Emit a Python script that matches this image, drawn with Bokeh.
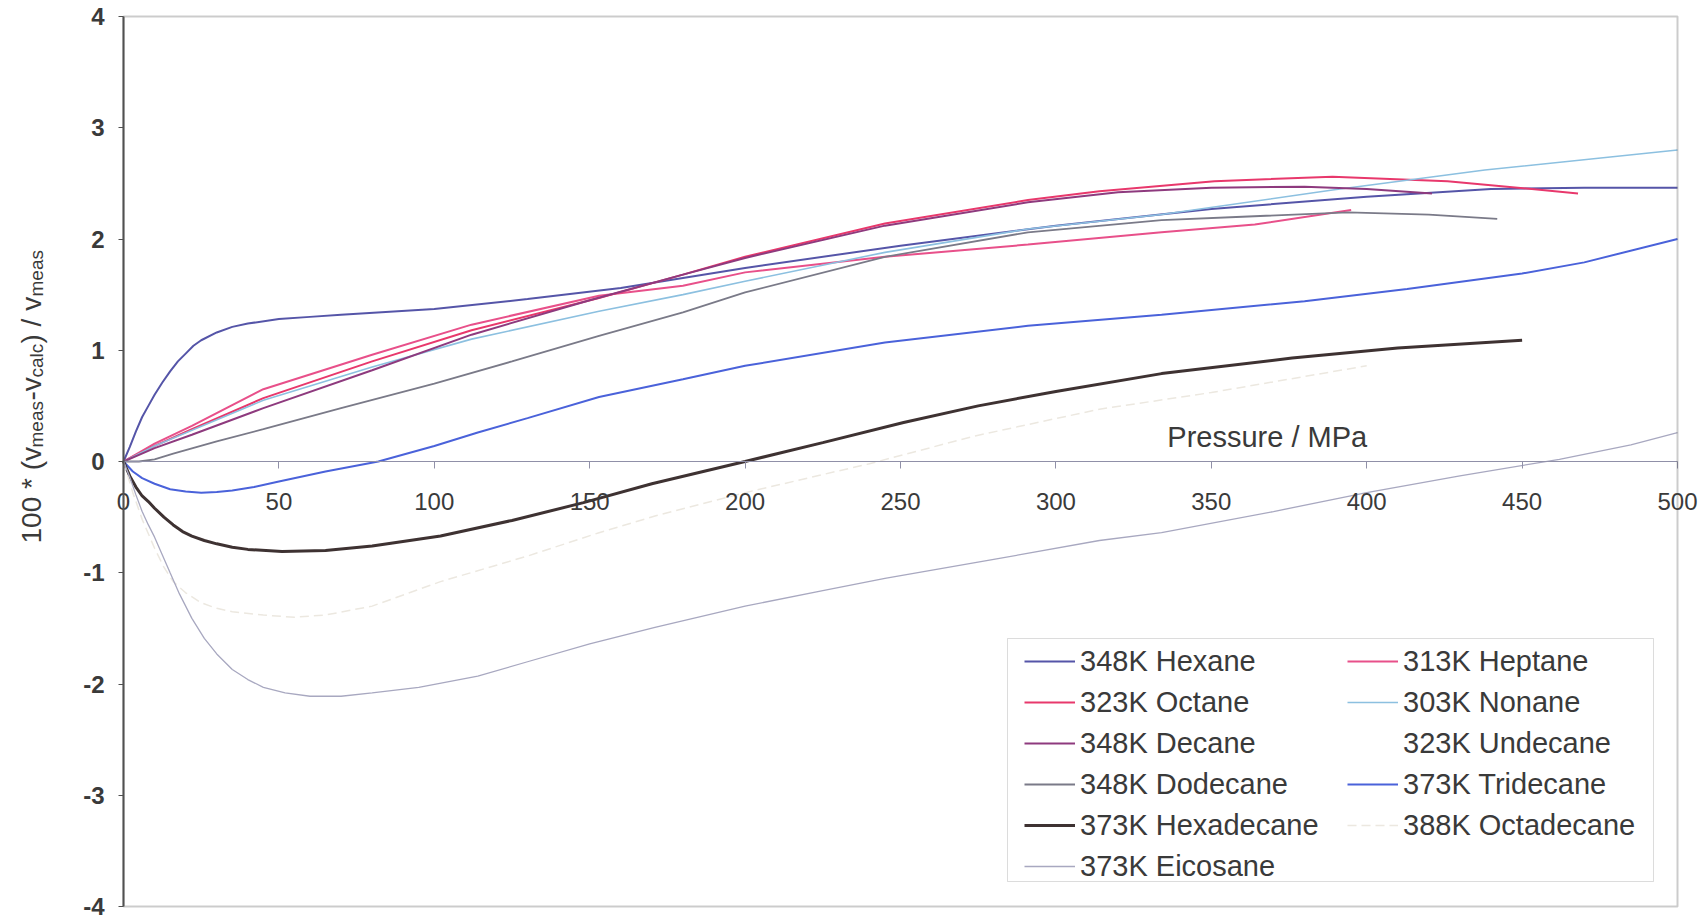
from math import pi
from bokeh.plotting import figure
from bokeh.models import (Range1d, FixedTicker, Label, Legend, LegendItem,
                          ColumnDataSource, BoxAnnotation)
from bokeh.embed import file_html
from bokeh.resources import INLINE

# ---------------- data ----------------
x_ticks = [0, 50, 100, 150, 200, 250, 300, 350, 400, 450, 500]
y_ticks = [-4, -3, -2, -1, 0, 1, 2, 3, 4]
y_tick_labels = ["-4", "-3", "-2", "-1", "0", "1", "2", "3", "4"]

series_names = ["348K Hexane", "313K Heptane", "323K Octane", "303K Nonane",
                "348K Decane", "323K Undecane", "348K Dodecane", "373K Tridecane",
                "373K Hexadecane", "388K Octadecane", "373K Eicosane"]

hexane_p = [0, 2, 4, 6, 8, 10, 12.5, 15, 17.5, 20, 22.5, 25, 30, 35, 40, 50, 60, 70, 100, 130, 160, 200, 250, 300, 350, 400, 440, 470, 500]
hexane_v = [0, 0.13, 0.27, 0.4, 0.5, 0.6, 0.71, 0.81, 0.9, 0.97, 1.04, 1.09, 1.16, 1.21, 1.24, 1.28, 1.3, 1.32, 1.37, 1.46, 1.56, 1.74, 1.94, 2.12, 2.27, 2.38, 2.45, 2.46, 2.46]

heptane_p = [0, 5, 10, 22, 45, 80, 112, 153, 180, 200, 245, 291, 334, 364, 395]
heptane_v = [0, 0.08, 0.16, 0.32, 0.65, 0.96, 1.23, 1.49, 1.58, 1.70, 1.84, 1.95, 2.06, 2.13, 2.26]

octane_p = [0, 5, 10, 22, 45, 80, 112, 153, 180, 200, 245, 291, 314, 351, 389, 426, 468]
octane_v = [0, 0.07, 0.14, 0.29, 0.57, 0.9, 1.18, 1.47, 1.68, 1.84, 2.14, 2.35, 2.43, 2.52, 2.56, 2.52, 2.41]

nonane_p = [0, 5, 10, 22, 45, 80, 112, 153, 180, 200, 245, 291, 334, 389, 438, 500]
nonane_v = [0, 0.07, 0.14, 0.28, 0.55, 0.85, 1.1, 1.35, 1.5, 1.62, 1.88, 2.09, 2.22, 2.44, 2.62, 2.8]

decane_p = [0, 5, 10, 22, 45, 80, 112, 150, 180, 200, 245, 291, 320, 350, 380, 400, 421]
decane_v = [0, 0.06, 0.12, 0.24, 0.48, 0.82, 1.14, 1.45, 1.68, 1.83, 2.12, 2.33, 2.42, 2.46, 2.47, 2.45, 2.41]

undecane_p = []
undecane_v = []

dodecane_p = [0, 5, 10, 16, 30, 45, 70, 100, 125, 153, 180, 200, 245, 291, 334, 360, 394, 420, 442]
dodecane_v = [0, 0.0, 0.02, 0.07, 0.18, 0.29, 0.48, 0.7, 0.9, 1.13, 1.34, 1.52, 1.84, 2.06, 2.17, 2.2, 2.24, 2.22, 2.18]

tridecane_p = [0, 3, 6, 10, 15, 20, 25, 30, 35, 42, 50, 65, 82, 100, 114, 130, 153, 180, 200, 245, 291, 334, 380, 413, 450, 470, 500]
tridecane_v = [0, -0.09, -0.15, -0.2, -0.25, -0.27, -0.28, -0.275, -0.26, -0.23, -0.18, -0.09, 0.0, 0.14, 0.26, 0.39, 0.58, 0.74, 0.86, 1.07, 1.22, 1.32, 1.44, 1.55, 1.69, 1.79, 2.0]

hexadecane_p = [0, 2, 4, 6, 8, 10, 13, 16, 19, 22, 26, 30, 35, 40, 51, 65, 80, 102, 125, 148, 170, 200, 225, 251, 275, 300, 334, 376, 410, 450]
hexadecane_v = [0, -0.13, -0.23, -0.31, -0.36, -0.42, -0.5, -0.57, -0.63, -0.67, -0.71, -0.74, -0.77, -0.79, -0.81, -0.8, -0.76, -0.67, -0.53, -0.37, -0.2, 0.0, 0.17, 0.35, 0.5, 0.63, 0.79, 0.93, 1.02, 1.09]

octadecane_p = [0, 3, 6, 10, 13, 16, 20, 25, 30, 35, 45, 55, 65, 80, 102, 130, 153, 171, 200, 240, 274, 314, 350, 400]
octadecane_v = [0, -0.28, -0.52, -0.78, -0.95, -1.08, -1.18, -1.27, -1.32, -1.35, -1.38, -1.4, -1.38, -1.3, -1.08, -0.85, -0.64, -0.49, -0.28, -0.02, 0.23, 0.47, 0.62, 0.86]

eicosane_p = [0, 2, 4, 6, 8, 10, 12.5, 15, 18, 22, 26, 30, 35, 40, 45, 52, 60, 70, 80, 95, 114, 130, 150, 171, 200, 225, 245, 280, 314, 334, 370, 400, 430, 462, 485, 500]
eicosane_v = [0, -0.14, -0.3, -0.45, -0.57, -0.68, -0.84, -1.0, -1.19, -1.41, -1.59, -1.73, -1.87, -1.96, -2.03, -2.08, -2.11, -2.11, -2.08, -2.03, -1.93, -1.8, -1.64, -1.49, -1.3, -1.16, -1.05, -0.88, -0.71, -0.64, -0.45, -0.28, -0.13, 0.02, 0.15, 0.26]

series_p = [hexane_p, heptane_p, octane_p, nonane_p, decane_p, undecane_p,
            dodecane_p, tridecane_p, hexadecane_p, octadecane_p, eicosane_p]
series_v = [hexane_v, heptane_v, octane_v, nonane_v, decane_v, undecane_v,
            dodecane_v, tridecane_v, hexadecane_v, octadecane_v, eicosane_v]

# ---------------- styles / layout ----------------
colors = ["#5555A8", "#E8508A", "#E8386C", "#8CC0E0", "#8E3A7E", "#F6F3DE",
          "#7A7A88", "#4A62DA", "#3E3232", "#ECE8E0", "#A8A8C0"]
widths = [2, 2, 2, 1.6, 2, 1.6, 1.8, 2, 3, 1.5, 1.3]
dashes = ["solid"] * 9 + ["9 5", "solid"]

FONT = "Liberation Sans"
TXT = "#3a3a3a"
W, H = 1702, 920
BOX_L, BOX_R, BOX_T, BOX_B = 123, 1677, 16, 906   # pixel edges of the plot box

x_lo, x_hi = x_ticks[0], x_ticks[-1]
y_lo, y_hi = y_ticks[0], y_ticks[-1]
sx = (BOX_R - BOX_L) / (x_hi - x_lo)
sy = (BOX_B - BOX_T) / (y_hi - y_lo)

def px_to_x(px):
    return x_lo + (px - BOX_L) / sx

def px_to_y(py):
    return y_hi - (py - BOX_T) / sy

p = figure(width=W, height=H, output_backend="svg", toolbar_location=None,
           x_range=Range1d(px_to_x(0), px_to_x(W)), y_range=Range1d(px_to_y(H), px_to_y(0)),
           min_border_left=0, min_border_right=0, min_border_top=0, min_border_bottom=0)
p.background_fill_color = "white"
p.border_fill_color = "white"
p.outline_line_color = None
p.xgrid.visible = False
p.ygrid.visible = False

# plot box (top / right / bottom edges)
p.add_layout(BoxAnnotation(left=x_lo, right=x_hi, bottom=y_lo, top=y_hi,
                           fill_alpha=0, line_color="#555555", line_width=2))

# x axis crossing at y = 0
xa = p.xaxis[0]
xa.fixed_location = 0
xa.bounds = (x_lo, x_hi)
xa.ticker = FixedTicker(ticks=x_ticks)
xa.axis_line_color = "#9090A8"
xa.axis_line_width = 1.2
xa.major_tick_line_color = "#9090A8"
xa.major_tick_in = 0
xa.major_tick_out = 7
xa.minor_tick_line_color = None
xa.major_label_text_font = FONT
xa.major_label_text_font_size = "24px"
xa.major_label_text_color = TXT
xa.major_label_standoff = 24

ya = p.yaxis[0]
ya.fixed_location = 0
ya.bounds = (y_lo, y_hi)
ya.ticker = FixedTicker(ticks=y_ticks)
ya.major_label_overrides = {t: s for t, s in zip(y_ticks, y_tick_labels)}
ya.axis_line_color = "#505050"
ya.axis_line_width = 2
ya.major_tick_line_color = "#505050"
ya.major_tick_in = 0
ya.major_tick_out = 5
ya.minor_tick_line_color = None
ya.major_label_text_font = FONT
ya.major_label_text_font_size = "24px"
ya.major_label_text_font_style = "bold"
ya.major_label_text_color = TXT
ya.major_label_standoff = 14

renderers = []
for name, xs, ys, c, w, d in zip(series_names, series_p, series_v, colors, widths, dashes):
    src = ColumnDataSource(dict(x=xs, y=ys))
    r = p.line("x", "y", source=src, line_color=c, line_width=w, line_dash=d)
    renderers.append(r)

# legend frame
p.add_layout(BoxAnnotation(left=px_to_x(1007), right=px_to_x(1653),
                           top=px_to_y(638), bottom=px_to_y(881),
                           fill_color="white", fill_alpha=1,
                           line_color="#8a8a8a", line_width=1))

leg_style = dict(orientation="vertical", label_text_font=FONT, label_text_font_size="29px",
                 label_text_color=TXT, glyph_width=51, glyph_height=20, label_height=34,
                 label_standoff=5, spacing=7, padding=0, margin=0,
                 border_line_color=None, background_fill_alpha=0)
col1 = [0, 2, 4, 6, 8, 10]
col2 = [1, 3, 5, 7, 9]
leg1 = Legend(items=[LegendItem(label=series_names[i], renderers=[renderers[i]]) for i in col1],
              location=(1024, 37), **leg_style)
leg2 = Legend(items=[LegendItem(label=series_names[i], renderers=[renderers[i]]) for i in col2],
              location=(1347, 78), **leg_style)
p.add_layout(leg1)
p.add_layout(leg2)

# x-axis title sitting above the axis, right side
p.add_layout(Label(x=368, y=0, y_offset=9, text="Pressure / MPa", text_align="center",
                   text_baseline="bottom", text_font=FONT, text_font_size="29px",
                   text_color=TXT))

# y-axis title with subscripts (rotated), anchored to the origin with pixel offsets
seg_texts = ["100 * (v", "meas", "-v", "calc", ") / v", "meas"]
seg_sub = [False, True, False, True, False, True]
seg_len = [96, 47, 23, 34, 47, 47]
start = -82
for t, sub, ln in zip(seg_texts, seg_sub, seg_len):
    p.add_layout(Label(x=0, y=0, x_offset=(-87 if sub else -92), y_offset=start,
                       angle=pi / 2, text=t, text_align="left", text_baseline="alphabetic",
                       text_font=FONT, text_font_size=("19px" if sub else "28px"),
                       text_color=TXT))
    start += ln

open("out.html", "w").write(file_html(p, INLINE))
